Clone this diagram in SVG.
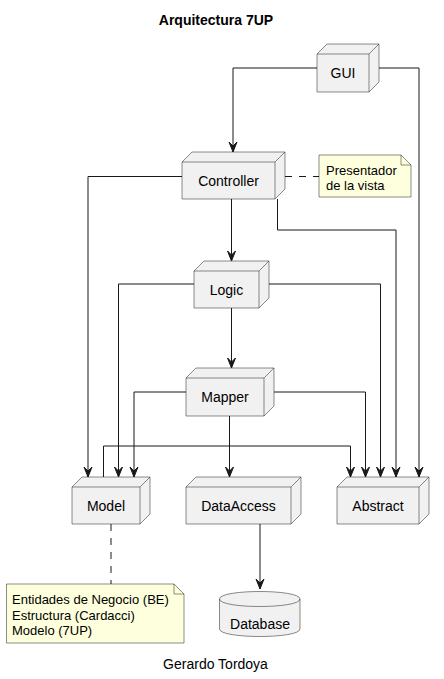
<svg xmlns="http://www.w3.org/2000/svg" width="444" height="679" viewBox="0 0 444 679">
<defs>
<style>
.node{fill:#F1F1F1;stroke:#181818;stroke-width:0.5}
.edge{fill:none;stroke:#181818;stroke-width:1}
.dash{fill:none;stroke:#181818;stroke-width:1;stroke-dasharray:7,7}
.note{fill:#FEFFDD;stroke:#181818;stroke-width:0.5}
.fold{fill:none;stroke:#181818;stroke-width:0.5}
text{font-family:"Liberation Sans",Arial,sans-serif;fill:#000000}
.lbl{font-size:14px;text-anchor:middle}
.nt{font-size:13px}
.title{font-size:14px;font-weight:bold;text-anchor:middle}
</style>
<marker id="arr" viewBox="-11 -5 12 10" refX="0" refY="0" markerWidth="12" markerHeight="10" markerUnits="userSpaceOnUse" orient="auto">
<path d="M0,0 L-10,-4 L-6,0 L-10,4 Z" fill="#181818" stroke="#181818" stroke-width="1"/>
</marker>
</defs>
<rect width="444" height="679" fill="#FFFFFF"/>
<text class="title" x="216" y="25">Arquitectura 7UP</text>

<g id="connectors">
<path class="edge" d="M317,68 H233 V152" marker-end="url(#arr)"/>
<path class="edge" d="M369,68 H419 V477" marker-end="url(#arr)"/>
<path class="edge" d="M182,176.5 H88 V477" marker-end="url(#arr)"/>
<path class="edge" d="M231.5,199 V261" marker-end="url(#arr)"/>
<path class="edge" d="M277.5,199 V230 H396 V477" marker-end="url(#arr)"/>
<path class="dash" d="M285,176.5 H319"/>
<path class="edge" d="M194,284 H118.5 V477" marker-end="url(#arr)"/>
<path class="edge" d="M259,284 H380.5 V477" marker-end="url(#arr)"/>
<path class="edge" d="M231.5,308 V368" marker-end="url(#arr)"/>
<path class="edge" d="M186,392 H134 V477" marker-end="url(#arr)"/>
<path class="edge" d="M264,392 H365.5 V477" marker-end="url(#arr)"/>
<path class="edge" d="M229.5,416 V477" marker-end="url(#arr)"/>
<path class="edge" d="M103.5,477 V446 H350.5 V477" marker-end="url(#arr)"/>
<path class="dash" d="M111,524 V584"/>
<path class="edge" d="M260,524 V589" marker-end="url(#arr)"/>
</g>

<g id="GUI">
<path class="node" d="M317,54 L327,44 L379,44 L379,82 L369,92 L317,92 Z"/>
<path class="fold" d="M317,54 H369 L379,44 M369,54 V92"/>
<text class="lbl" x="343" y="78">GUI</text>
</g>
<g id="Controller">
<path class="node" d="M182,162 L192,152 L285,152 L285,189 L275,199 L182,199 Z"/>
<path class="fold" d="M182,162 H275 L285,152 M275,162 V199"/>
<text class="lbl" x="228.5" y="186">Controller</text>
</g>
<g id="note_presentador">
<path class="note" d="M319,155 H401 L411,165 V197 H319 Z"/>
<path class="fold" d="M401,155 V165 H411"/>
<text class="nt" x="326" y="175">Presentador</text>
<text class="nt" x="326" y="190">de la vista</text>
</g>
<g id="Logic">
<path class="node" d="M194,271 L204,261 L269,261 L269,298 L259,308 L194,308 Z"/>
<path class="fold" d="M194,271 H259 L269,261 M259,271 V308"/>
<text class="lbl" x="226.5" y="294.5">Logic</text>
</g>
<g id="Mapper">
<path class="node" d="M186,378 L196,368 L274,368 L274,406 L264,416 L186,416 Z"/>
<path class="fold" d="M186,378 H264 L274,368 M264,378 V416"/>
<text class="lbl" x="225" y="402">Mapper</text>
</g>
<g id="Model">
<path class="node" d="M72,487 L82,477 L150,477 L150,514 L140,524 L72,524 Z"/>
<path class="fold" d="M72,487 H140 L150,477 M140,487 V524"/>
<text class="lbl" x="106" y="510.5">Model</text>
</g>
<g id="DataAccess">
<path class="node" d="M186,487 L196,477 L301,477 L301,514 L291,524 L186,524 Z"/>
<path class="fold" d="M186,487 H291 L301,477 M291,487 V524"/>
<text class="lbl" x="238.5" y="510.5">DataAccess</text>
</g>
<g id="Abstract">
<path class="node" d="M337,487 L347,477 L429,477 L429,514 L419,524 L337,524 Z"/>
<path class="fold" d="M337,487 H419 L429,477 M419,487 V524"/>
<text class="lbl" x="378" y="510.5">Abstract</text>
</g>
<g id="note_model">
<path class="note" d="M6.5,584 H174 L184,594 V643 H6.5 Z"/>
<path class="fold" d="M174,584 V594 H184"/>
<text class="nt" x="12" y="604">Entidades de Negocio (BE)</text>
<text class="nt" x="12" y="619.5">Estructura (Cardacci)</text>
<text class="nt" x="12" y="634.5">Modelo (7UP)</text>
</g>
<g id="Database">
<path class="node" d="M219.5,599 C219.5,589 300,589 300,599 L300,629 C300,639 219.5,639 219.5,629 Z"/>
<path class="fold" d="M219.5,599 C219.5,609 300,609 300,599"/>
<text class="lbl" x="260" y="629">Database</text>
</g>
<text class="lbl" x="215.5" y="669">Gerardo Tordoya</text>
</svg>
